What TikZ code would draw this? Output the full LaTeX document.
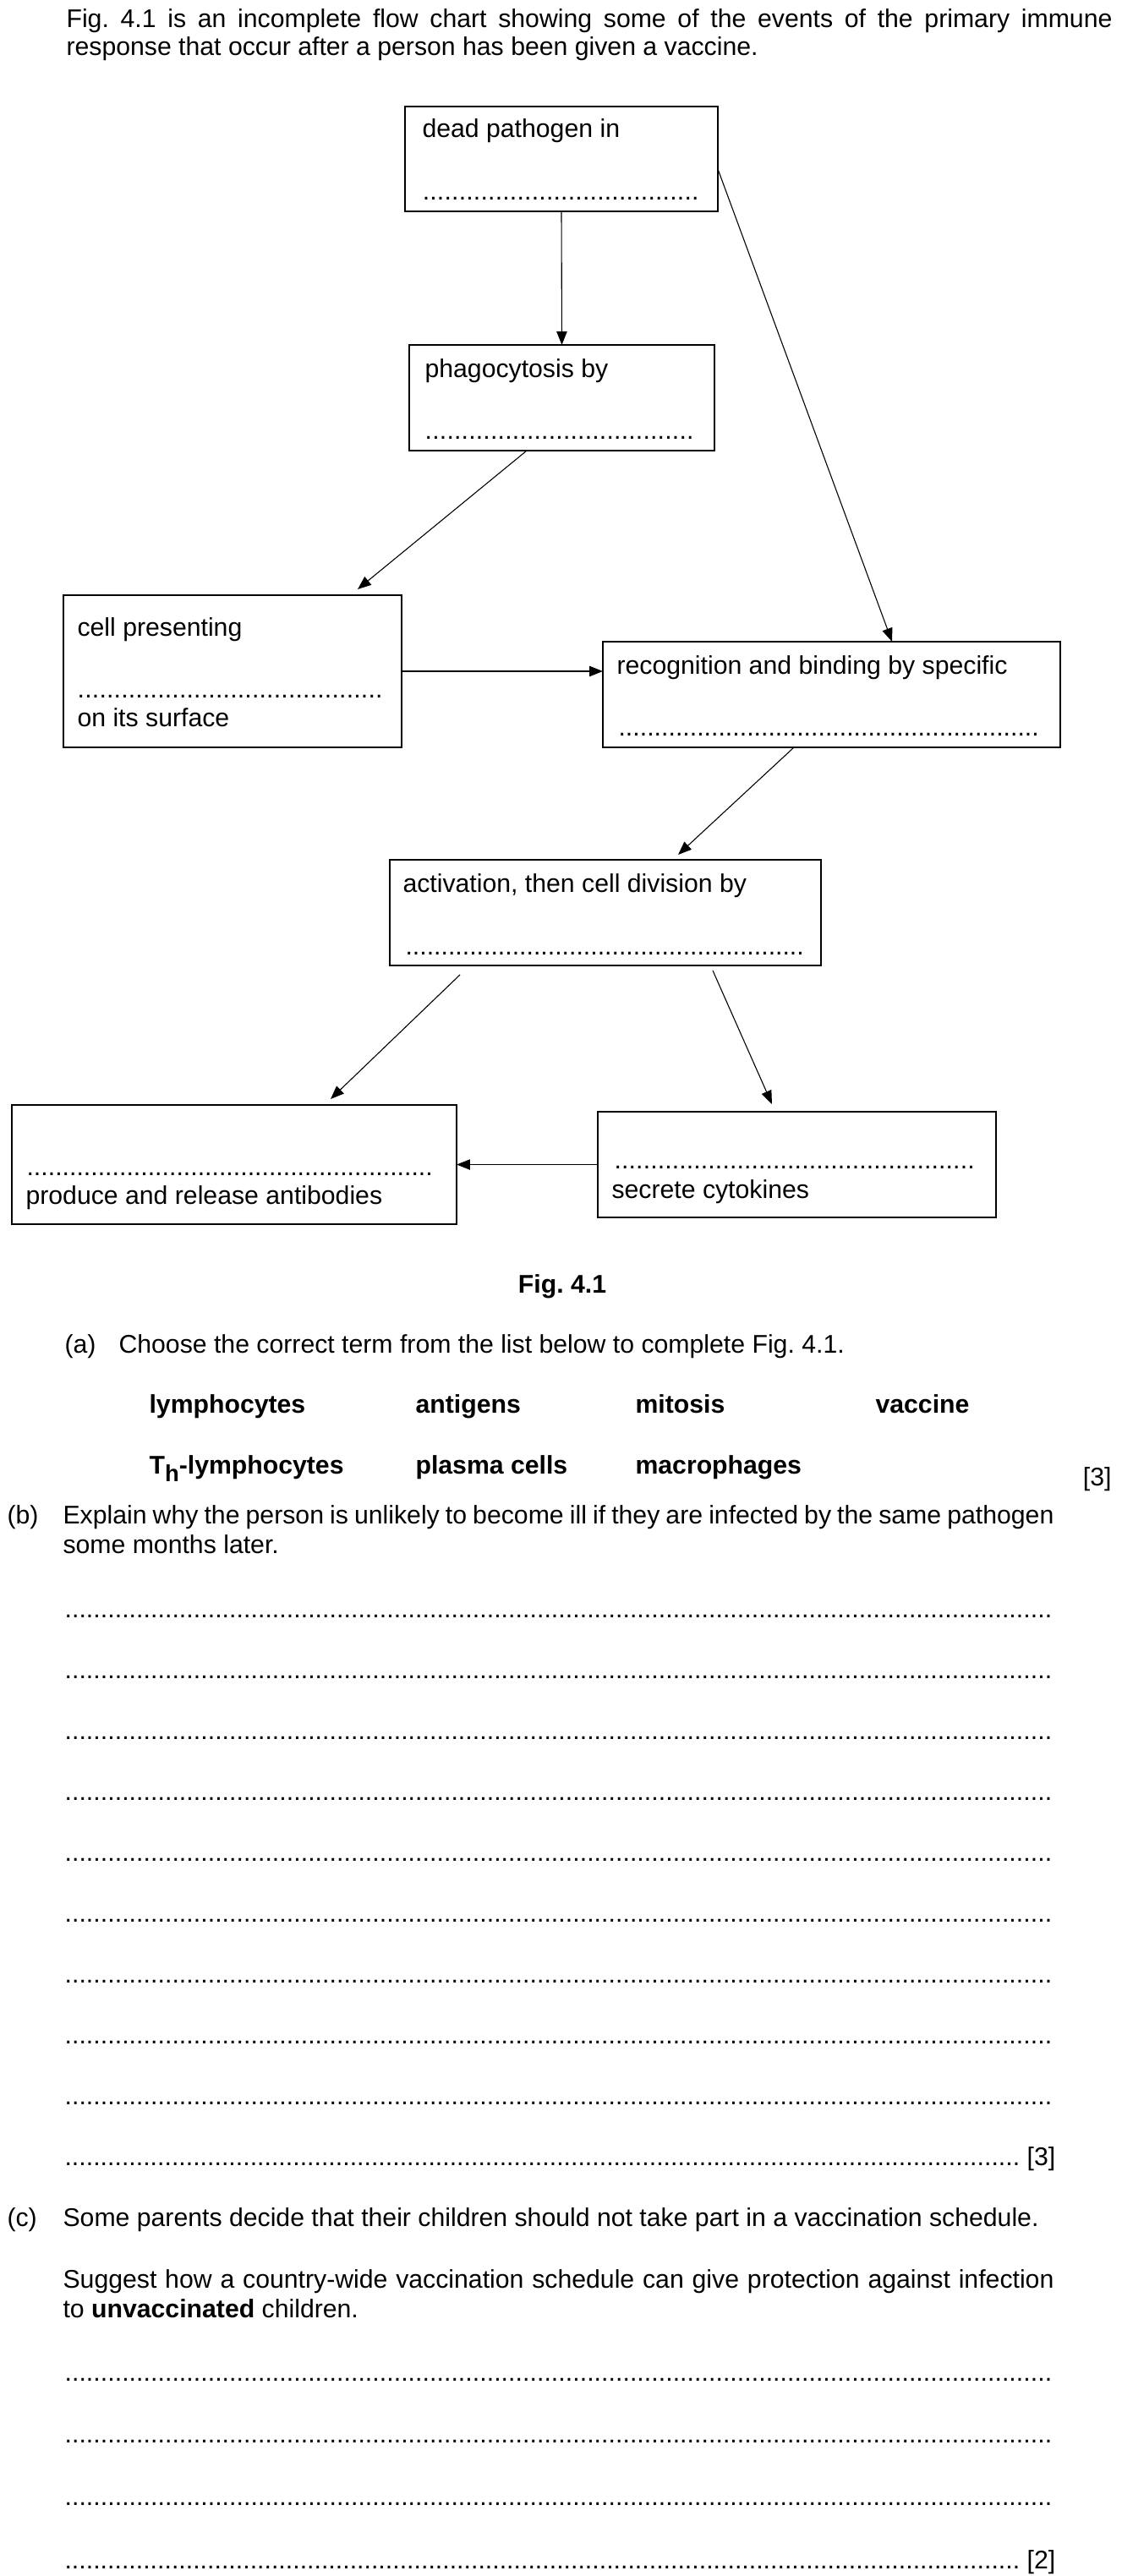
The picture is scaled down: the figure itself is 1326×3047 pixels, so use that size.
\documentclass[tikz,border=0pt]{standalone}
\usepackage{fontspec}
\setmainfont{Liberation Sans}
\usetikzlibrary{arrows.meta,calc}
\newlength\px
\setlength\px{0.364pt}
\newcommand\dotrun[1]{\hbox to #1\px{\xleaders\hbox{.}\hfill}}
\frenchspacing
\begin{document}
\begin{tikzpicture}[x=0.364pt,y=-0.364pt,
  font=\fontsize{11}{12.6}\selectfont,
  box/.style={draw, line width=0.55pt, inner sep=0pt, outer sep=0pt, anchor=north west},
  txt/.style={anchor=base west, inner sep=0pt},
  rtxt/.style={anchor=base east, inner sep=0pt},
  term/.style={anchor=base west, inner sep=0pt, font=\fontsize{11}{12.6}\selectfont\bfseries},
  arr/.style={line width=0.4pt, -{Triangle[length=5.8pt,width=4.5pt]}},
]
\useasboundingbox (0,0) rectangle (1326,3047);

% intro
\node[txt] (i1) at (78,32) {\makebox[1237\px][s]{Fig. 4.1 is an incomplete flow chart showing some of the events of the primary immune}};
\node[txt] (i2) at (78,66) {response that occur after a person has been given a vaccine.};

% boxes
\node[box, minimum width=370\px, minimum height=124\px] (b1) at (479,126) {};
\node[box, minimum width=361\px, minimum height=125\px] (b2) at (484,408) {};
\node[box, minimum width=400\px, minimum height=180\px] (b3) at (75,704) {};
\node[box, minimum width=541\px, minimum height=125\px] (b4) at (713,759) {};
\node[box, minimum width=510\px, minimum height=125\px] (b5) at (461,1017) {};
\node[box, minimum width=526\px, minimum height=141\px] (b6) at (14,1307) {};
\node[box, minimum width=471\px, minimum height=125\px] (b7) at (707,1315) {};

% box texts
\node[txt] (t1) at (499,162) {dead pathogen in};
\node[txt] (d1) at (499,236) {\dotrun{327}};
\node[txt] (t2) at (502,446) {phagocytosis by};
\node[txt] (d2) at (502,519) {\dotrun{318}};
\node[txt] (t3) at (91,752) {cell presenting};
\node[txt] (d3) at (91,825) {\dotrun{361}};
\node[txt] (t3b) at (91,859) {on its surface};
\node[txt] (t4) at (729,797) {recognition and binding by specific};
\node[txt] (d4) at (731,870) {\dotrun{497}};
\node[txt] (t5) at (476,1055) {activation, then cell division by};
\node[txt] (d5) at (479,1129) {\dotrun{471}};
\node[txt] (d6) at (31,1390) {\dotrun{480}};
\node[txt] (t6) at (30,1424) {produce and release antibodies};
\node[txt] (d7) at (726,1382) {\dotrun{426}};
\node[txt] (t7) at (723,1417) {secrete cytokines};

% arrows
\draw[arr] (b1.south) -- (b2.north);
\coordinate (s2) at ($(b2.south west)+(139,0)$);
\coordinate (e2) at ($(b3.north west)+(348,-7)$);
\draw[arr] (s2) -- (e2);
\draw[arr] (b3.east) -- (b3.east -| b4.west);
\coordinate (s4) at ($(b1.north east)+(0,74)$);
\coordinate (e4) at ($(b4.north west)+(342,0)$);
\draw[arr] (s4) -- (e4);
\coordinate (s5) at ($(b4.south west)+(226,0)$);
\coordinate (e5) at ($(b5.north west)+(341,-6)$);
\draw[arr] (s5) -- (e5);
\coordinate (s6) at ($(b5.south west)+(83,11)$);
\coordinate (e6) at ($(b6.north west)+(377,-7)$);
\draw[arr] (s6) -- (e6);
\coordinate (s7) at ($(b5.south west)+(382,6)$);
\coordinate (e7) at ($(b7.north west)+(206,-9)$);
\draw[arr] (s7) -- (e7);
\draw[arr] (b7.west) -- (b7.west -| b6.east);

% caption
\node[anchor=base, inner sep=0pt, font=\fontsize{11}{12.6}\selectfont\bfseries] (fig) at (665,1529) {Fig. 4.1};

% (a)
\node[txt] (pa) at (76,1600) {(a)};
\node[txt] (qa) at (140,1600) {Choose the correct term from the list below to complete Fig. 4.1.};
\node[term] (w1) at (176,1671) {lymphocytes};
\node[term] (w2) at (491,1671) {antigens};
\node[term] (w3) at (751,1671) {mitosis};
\node[term] (w4) at (1035,1671) {vaccine};
\node[term] (w5) at (176,1743) {T\raisebox{-3.6pt}{\fontsize{10}{10}\selectfont h}-lymphocytes};
\node[term] (w6) at (491,1743) {plasma cells};
\node[term] (w7) at (751,1743) {macrophages};
\node[rtxt] (ma) at (1315,1757) {[3]};

% (b)
\node[txt] (pb) at (8,1802) {(b)};
\node[txt] (qb1) at (74,1802) {\makebox[1172\px][s]{Explain why the person is unlikely to become ill if they are infected by the same pathogen}};
\node[txt] (qb2) at (74,1837) {some months later.};
\foreach \k in {0,...,8} {
  \node[txt] (bl\k) at (76,1913+72*\k) {\dotrun{1167}};
}
\node[txt] (bl9) at (76,2561) {\hbox to 1171\px{\xleaders\hbox{.}\hfill\ [3]}};

% (c)
\node[txt] (pc) at (8,2633) {(c)};
\node[txt] (qc1) at (74,2633) {Some parents decide that their children should not take part in a vaccination schedule.};
\node[txt] (qc2) at (74,2706) {\makebox[1172\px][s]{Suggest how a country-wide vaccination schedule can give protection against infection}};
\node[txt] (qc3) at (74,2741) {to \textbf{unvaccinated} children.};
\node[txt] (cl0) at (76,2816) {\dotrun{1167}};
\node[txt] (cl1) at (76,2889) {\dotrun{1167}};
\node[txt] (cl2) at (76,2963) {\dotrun{1167}};
\node[txt] (cl3) at (76,3038) {\hbox to 1171\px{\xleaders\hbox{.}\hfill\ [2]}};
\end{tikzpicture}
\end{document}
